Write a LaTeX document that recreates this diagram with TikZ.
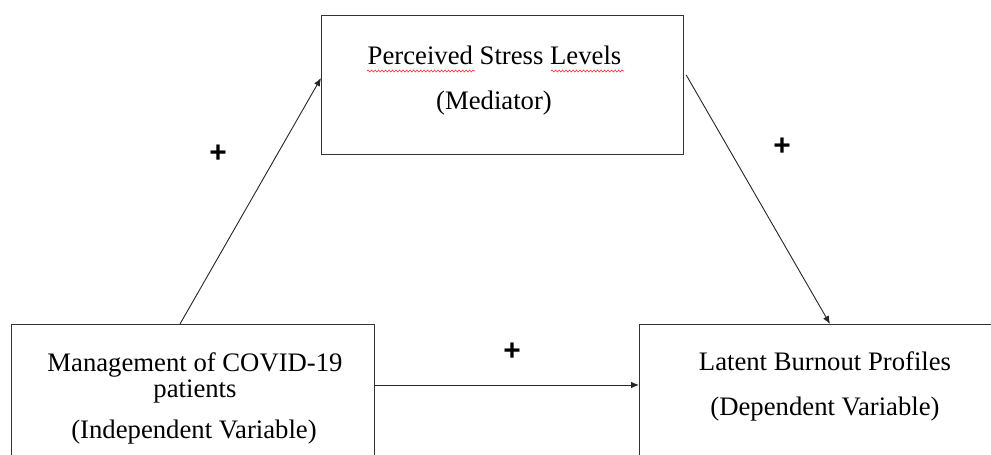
\documentclass[tikz,border=0pt]{standalone}
\usepackage{fontspec}
\setmainfont{Liberation Serif}
\newfontfamily\plusfont{Liberation Sans}
\usetikzlibrary{calc,arrows.meta,decorations.pathmorphing}
\begin{document}
\begin{tikzpicture}[x=1bp,y=-1bp,
  box/.style={draw=black!80,line width=1.2bp,rectangle,inner sep=0pt,anchor=north west},
  txt/.style={anchor=base,inner sep=0pt,font=\fontsize{26.8}{30}\selectfont},
  sign/.style={inner sep=0pt,font=\plusfont\bfseries\fontsize{30}{30}\selectfont},
  arr/.style={draw=black!85,line width=0.9bp,-{Latex[length=8bp,width=6.5bp]}},
  squig/.style={draw=red!85,line width=0.6bp,decorate,decoration={snake,amplitude=1bp,segment length=3.5bp}}]
\useasboundingbox (0,0) rectangle (991,455);
\clip (0,0) rectangle (991,455);
\fill[white] (0,0) rectangle (991,455);
% boxes
\node[box,minimum width=362bp,minimum height=139bp] (med) at (321,15) {};
\node[box,minimum width=363bp,minimum height=160bp] (iv) at (11,324) {};
\node[box,minimum width=400bp,minimum height=160bp] (dv) at (639,324) {};
% texts
\node[txt] (medA) at (494.5,65) {Perceived Stress Levels};
\node[txt] (medB) at (494,110) {(Mediator)};
\node[txt] (ivA) at (195,372) {Management of COVID-19};
\node[txt] (ivB) at (195,397) {patients};
\node[txt] (ivC) at (194,438) {(Independent Variable)};
\node[txt] (dvA) at (825,371) {Latent Burnout Profiles};
\node[txt] (dvB) at (825,415) {(Dependent Variable)};
% spelling squiggles
\draw[squig] (367,71) -- (475,71);
\draw[squig] (551,71) -- (624,71);
% connectors
\draw[arr] ($(iv.north west)+(169,0)$) -- ($(med.north west)+(0,63)$);
\draw[arr] ($(med.north east)+(2,60)$) -- ($(dv.north west)+(191,0)$);
\draw[arr] ($(iv.north east)+(0,61)$) -- ($(dv.north west)+(0,61)$);
% signs
\node[sign] (p1) at (218,154) {+};
\node[sign] (p2) at (782,147) {+};
\node[sign] (p3) at (512,352) {+};
\end{tikzpicture}
\end{document}
